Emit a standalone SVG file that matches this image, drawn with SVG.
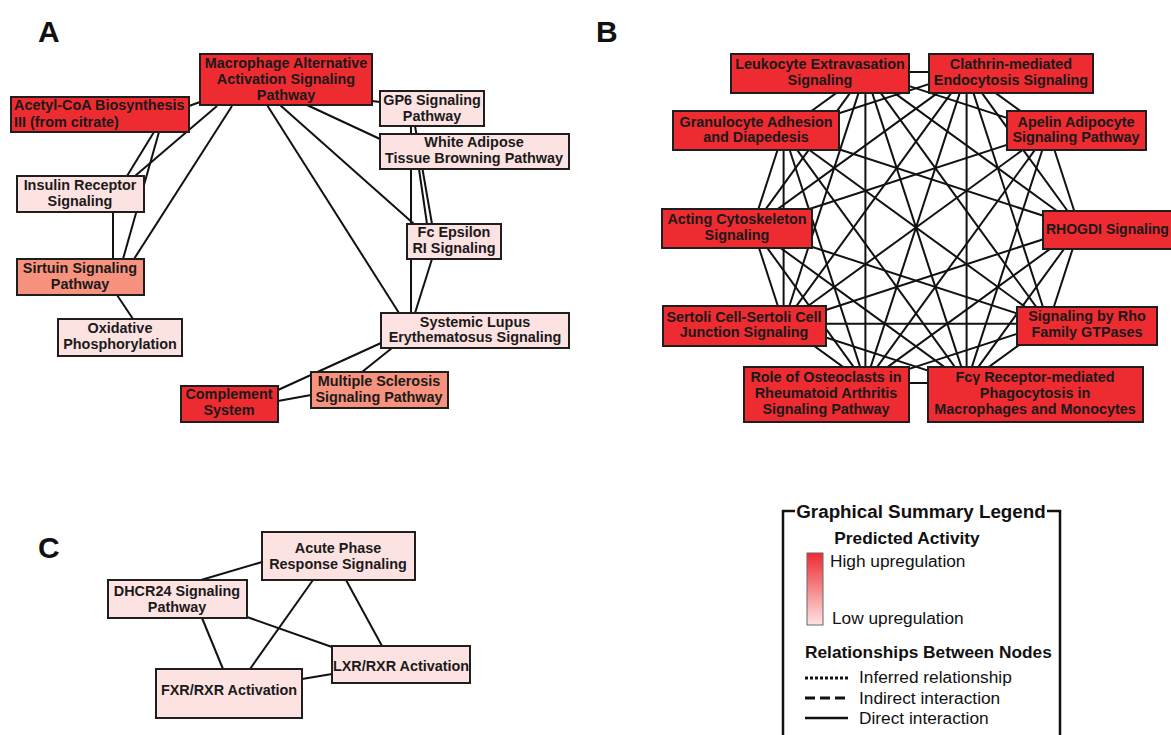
<svg xmlns="http://www.w3.org/2000/svg" width="1171" height="735" viewBox="0 0 1171 735">
<defs>
<linearGradient id="grad" x1="0" y1="0" x2="0" y2="1">
<stop offset="0" stop-color="#ee2b31"/>
<stop offset="1" stop-color="#fde4e4"/>
</linearGradient>
<style>
.panel{font-family:"Liberation Sans",Arial,sans-serif;font-weight:bold;font-size:30px;fill:#111}
.n rect{stroke:#1e1e1e;stroke-width:2}
.red{fill:#ee2b31}
.pale{fill:#fde2e2}
.sal{fill:#f7927e}
.n text{font-family:"Liberation Sans",Arial,sans-serif;font-weight:bold;font-size:14.4px;fill:#1a1a1a;text-anchor:middle}
.n text.l{text-anchor:start}
.e line{stroke:#111;stroke-width:2}
.lg{font-family:"Liberation Sans",Arial,sans-serif;fill:#111;font-size:17.3px}
.lg.b{font-weight:bold}
.lg.t{font-size:18.8px}
</style>
</defs>
<rect width="1171" height="735" fill="#fff"/>
<text class="panel" x="38" y="42">A</text>
<text class="panel" x="596" y="42">B</text>
<text class="panel" x="38" y="558">C</text>

<g id="edgesA" class="e">
<line x1="200" y1="102" x2="189" y2="106"/>
<line x1="217" y1="106" x2="135" y2="176"/>
<line x1="232" y1="106" x2="134" y2="259"/>
<line x1="154" y1="132" x2="127" y2="176"/>
<line x1="159" y1="132" x2="123" y2="259"/>
<line x1="113" y1="212" x2="113" y2="259"/>
<line x1="117" y1="295" x2="133" y2="319"/>
<line x1="267" y1="105" x2="399" y2="313"/>
<line x1="280" y1="105" x2="414" y2="224"/>
<line x1="307" y1="105" x2="380" y2="139"/>
<line x1="372" y1="101" x2="380" y2="102"/>
<line x1="411" y1="126" x2="411" y2="313"/>
<line x1="415" y1="126" x2="432" y2="224"/>
<line x1="419" y1="169" x2="427" y2="224"/>
<line x1="432" y1="259" x2="415" y2="313"/>
<line x1="381" y1="343" x2="278" y2="390"/>
<line x1="392" y1="348" x2="362" y2="372"/>
<line x1="311" y1="395" x2="278" y2="401"/>
</g>

<g id="edgesB" class="e">
<line x1="865.4" y1="71.9" x2="966.6" y2="71.9"/>
<line x1="865.4" y1="71.9" x2="783.6" y2="131.3"/>
<line x1="865.4" y1="71.9" x2="1048.4" y2="131.3"/>
<line x1="865.4" y1="71.9" x2="752.4" y2="227.5"/>
<line x1="865.4" y1="71.9" x2="1079.6" y2="227.5"/>
<line x1="865.4" y1="71.9" x2="783.6" y2="323.7"/>
<line x1="865.4" y1="71.9" x2="1048.4" y2="323.7"/>
<line x1="865.4" y1="71.9" x2="865.4" y2="383.1"/>
<line x1="865.4" y1="71.9" x2="966.6" y2="383.1"/>
<line x1="966.6" y1="71.9" x2="783.6" y2="131.3"/>
<line x1="966.6" y1="71.9" x2="1048.4" y2="131.3"/>
<line x1="966.6" y1="71.9" x2="752.4" y2="227.5"/>
<line x1="966.6" y1="71.9" x2="1079.6" y2="227.5"/>
<line x1="966.6" y1="71.9" x2="783.6" y2="323.7"/>
<line x1="966.6" y1="71.9" x2="1048.4" y2="323.7"/>
<line x1="966.6" y1="71.9" x2="865.4" y2="383.1"/>
<line x1="966.6" y1="71.9" x2="966.6" y2="383.1"/>
<line x1="783.6" y1="131.3" x2="752.4" y2="227.5"/>
<line x1="783.6" y1="131.3" x2="1079.6" y2="227.5"/>
<line x1="783.6" y1="131.3" x2="783.6" y2="323.7"/>
<line x1="783.6" y1="131.3" x2="1048.4" y2="323.7"/>
<line x1="783.6" y1="131.3" x2="865.4" y2="383.1"/>
<line x1="783.6" y1="131.3" x2="966.6" y2="383.1"/>
<line x1="1048.4" y1="131.3" x2="752.4" y2="227.5"/>
<line x1="1048.4" y1="131.3" x2="1079.6" y2="227.5"/>
<line x1="1048.4" y1="131.3" x2="783.6" y2="323.7"/>
<line x1="1048.4" y1="131.3" x2="865.4" y2="383.1"/>
<line x1="1048.4" y1="131.3" x2="966.6" y2="383.1"/>
<line x1="752.4" y1="227.5" x2="783.6" y2="323.7"/>
<line x1="752.4" y1="227.5" x2="1048.4" y2="323.7"/>
<line x1="752.4" y1="227.5" x2="865.4" y2="383.1"/>
<line x1="752.4" y1="227.5" x2="966.6" y2="383.1"/>
<line x1="1079.6" y1="227.5" x2="783.6" y2="323.7"/>
<line x1="1079.6" y1="227.5" x2="1048.4" y2="323.7"/>
<line x1="1079.6" y1="227.5" x2="865.4" y2="383.1"/>
<line x1="1079.6" y1="227.5" x2="966.6" y2="383.1"/>
<line x1="783.6" y1="323.7" x2="1048.4" y2="323.7"/>
<line x1="783.6" y1="323.7" x2="865.4" y2="383.1"/>
<line x1="783.6" y1="323.7" x2="966.6" y2="383.1"/>
<line x1="1048.4" y1="323.7" x2="865.4" y2="383.1"/>
<line x1="1048.4" y1="323.7" x2="966.6" y2="383.1"/>
<line x1="865.4" y1="383.1" x2="966.6" y2="383.1"/>
</g>

<g id="edgesC" class="e">
<line x1="262" y1="562" x2="201" y2="580"/>
<line x1="313" y1="580" x2="250" y2="669"/>
<line x1="346" y1="580" x2="382" y2="646"/>
<line x1="247" y1="617" x2="332" y2="647"/>
<line x1="202" y1="618" x2="223" y2="669"/>
<line x1="302" y1="679" x2="332" y2="674"/>
</g>

<g id="a_macrophage" class="n"><rect class="red" x="200" y="54" width="172" height="51"/><text x="286" y="68">Macrophage Alternative</text><text x="286" y="84">Activation Signaling</text><text x="286" y="100">Pathway</text></g>
<g id="a_acetyl" class="n"><rect class="red" x="11" y="97" width="178" height="35"/><text class="l" x="14" y="110">Acetyl-CoA Biosynthesis</text><text class="l" x="14" y="127">III (from citrate)</text></g>
<g id="a_gp6" class="n"><rect class="pale" x="380" y="91" width="104" height="35"/><text x="432" y="105">GP6 Signaling</text><text x="432" y="121">Pathway</text></g>
<g id="a_wat" class="n"><rect class="pale" x="380" y="134" width="189" height="35"/><text x="474" y="147">White Adipose</text><text x="474" y="163">Tissue Browning Pathway</text></g>
<g id="a_insulin" class="n"><rect class="pale" x="17" y="176" width="127" height="36"/><text x="80" y="190">Insulin Receptor</text><text x="80" y="206">Signaling</text></g>
<g id="a_fce" class="n"><rect class="pale" x="407" y="224" width="94" height="35"/><text x="454" y="237">Fc Epsilon</text><text x="454" y="253">RI Signaling</text></g>
<g id="a_sirtuin" class="n"><rect class="sal" x="17" y="259" width="127" height="36"/><text x="80" y="273">Sirtuin Signaling</text><text x="80" y="289">Pathway</text></g>
<g id="a_oxphos" class="n"><rect class="pale" x="58" y="319" width="124" height="37"/><text x="120" y="333">Oxidative</text><text x="120" y="349">Phosphorylation</text></g>
<g id="a_sle" class="n"><rect class="pale" x="381" y="313" width="188" height="35"/><text x="475" y="327">Systemic Lupus</text><text x="475" y="342">Erythematosus Signaling</text></g>
<g id="a_ms" class="n"><rect class="sal" x="311" y="372" width="137" height="36"/><text x="379" y="386">Multiple Sclerosis</text><text x="379" y="402">Signaling Pathway</text></g>
<g id="a_complement" class="n"><rect class="red" x="181" y="386" width="97" height="36"/><text x="229" y="399">Complement</text><text x="229" y="415">System</text></g>

<g id="b_leukocyte" class="n"><rect class="red" x="731" y="54" width="178" height="39"/><text x="820" y="69">Leukocyte Extravasation</text><text x="820" y="85">Signaling</text></g>
<g id="b_clathrin" class="n"><rect class="red" x="929" y="54" width="164" height="39"/><text x="1011" y="69">Clathrin-mediated</text><text x="1011" y="85">Endocytosis Signaling</text></g>
<g id="b_granulocyte" class="n"><rect class="red" x="673" y="111" width="166" height="39"/><text x="756" y="127">Granulocyte Adhesion</text><text x="756" y="142">and Diapedesis</text></g>
<g id="b_apelin" class="n"><rect class="red" x="1007" y="111" width="139" height="39"/><text x="1076" y="127">Apelin Adipocyte</text><text x="1076" y="142">Signaling Pathway</text></g>
<g id="b_acting" class="n"><rect class="red" x="662" y="209" width="150" height="39"/><text x="737" y="224">Acting Cytoskeleton</text><text x="737" y="240">Signaling</text></g>
<g id="b_rhogdi" class="n"><rect class="red" x="1043" y="211" width="140" height="38"/><text class="l" x="1046" y="234" style="font-size:14px">RHOGDI Signaling</text></g>
<g id="b_sertoli" class="n"><rect class="red" x="663" y="306" width="163" height="40"/><text x="744" y="322">Sertoli Cell-Sertoli Cell</text><text x="744" y="337">Junction Signaling</text></g>
<g id="b_rho" class="n"><rect class="red" x="1017" y="307" width="140" height="38"/><text x="1087" y="321">Signaling by Rho</text><text x="1087" y="337">Family GTPases</text></g>
<g id="b_osteoclasts" class="n"><rect class="red" x="744" y="367" width="165" height="55"/><text x="826" y="382">Role of Osteoclasts in</text><text x="826" y="398">Rheumatoid Arthritis</text><text x="826" y="414">Signaling Pathway</text></g>
<g id="b_fcg" class="n"><rect class="red" x="928" y="367" width="215" height="55"/><text x="1035" y="382">Fcγ Receptor-mediated</text><text x="1035" y="398">Phagocytosis in</text><text x="1035" y="414">Macrophages and Monocytes</text></g>

<g id="c_acute" class="n"><rect class="pale" x="262" y="532" width="153" height="48"/><text x="338" y="553">Acute Phase</text><text x="338" y="569">Response Signaling</text></g>
<g id="c_dhcr24" class="n"><rect class="pale" x="108" y="580" width="139" height="38"/><text x="177" y="596">DHCR24 Signaling</text><text x="177" y="612">Pathway</text></g>
<g id="c_lxr" class="n"><rect class="pale" x="332" y="646" width="138" height="37"/><text x="401" y="671">LXR/RXR Activation</text></g>
<g id="c_fxr" class="n"><rect class="pale" x="156" y="669" width="146" height="49"/><text x="229" y="695">FXR/RXR Activation</text></g>

<g id="legend">
<path d="M795 511 H783 V735 M1047 511 H1060 V735" fill="none" stroke="#111" stroke-width="2.5"/>
<text class="lg b t" x="921" y="518" text-anchor="middle">Graphical Summary Legend</text>
<text class="lg b" x="907" y="544" text-anchor="middle">Predicted Activity</text>
<rect x="807" y="553" width="16" height="72" fill="url(#grad)" stroke="#666" stroke-width="1"/>
<text class="lg" x="830" y="567">High upregulation</text>
<text class="lg" x="832" y="624">Low upregulation</text>
<text class="lg b" x="805" y="658">Relationships Between Nodes</text>
<line x1="805" y1="678" x2="848" y2="678" stroke="#111" stroke-width="3" stroke-dasharray="3 2"/>
<text class="lg" x="859" y="683">Inferred relationship</text>
<line x1="805" y1="698" x2="848" y2="698" stroke="#111" stroke-width="3" stroke-dasharray="10 5"/>
<text class="lg" x="859" y="704">Indirect interaction</text>
<line x1="805" y1="718" x2="848" y2="718" stroke="#111" stroke-width="2.5"/>
<text class="lg" x="859" y="724">Direct interaction</text>
</g>
</svg>
